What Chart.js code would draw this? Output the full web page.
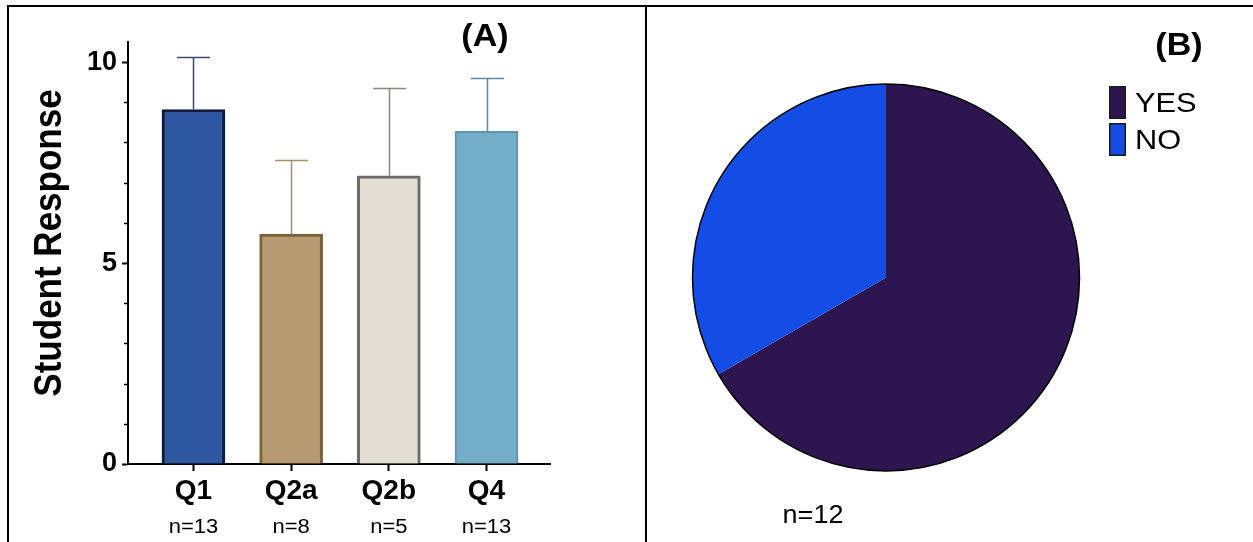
<!DOCTYPE html>
<html>
<head>
<meta charset="utf-8">
<title>Student Response</title>
<script src="https://cdn.jsdelivr.net/npm/chart.js@4.4.0/dist/chart.umd.min.js"></script>
<style>
  html, body { margin: 0; padding: 0; background: #ffffff; }
  #wrap { position: relative; width: 1253px; height: 542px; overflow: hidden; background: #fff; }
  #wrap canvas { position: absolute; top: 0; }
  .rule { position: absolute; background: #000; }
</style>
</head>
<body>
<div id="wrap">
  <canvas id="bars" width="645" height="542" style="left:0"></canvas>
  <canvas id="pie" width="606" height="542" style="left:647px"></canvas>
  <div class="rule" style="left:7px;top:5px;width:1246px;height:2px"></div>
  <div class="rule" style="left:7px;top:5px;width:2px;height:537px"></div>
  <div class="rule" style="left:645px;top:5px;width:2px;height:537px"></div>
</div>
<script>
// ---- panel (A): mean student response per question ----
const categories   = ['Q1', 'Q2a', 'Q2b', 'Q4'];
const sampleSizes  = ['n=13', 'n=8', 'n=5', 'n=13'];
const meanResponse = [8.82, 5.72, 7.17, 8.28];
const errorUpper   = [1.30, 1.85, 2.19, 1.33];
const yTickLabels  = [0, 5, 10];

// ---- panel (B): yes / no answers ----
const pieLabels = ['YES', 'NO'];
const pieCounts = [8, 4];
const pieSample = 'n=12';

// styling
const FONT = '"Liberation Sans", Arial, Helvetica, sans-serif';
const barFill   = ['#2e57a2', '#b59b6f', '#e2ded4', '#72aec8'];
const barEdge   = ['#0e1c3c', '#7a6137', '#6c6b67', '#5f95aa'];
const barEdgeW  = [3, 3, 3, 2];
const errColor  = ['#3c4b6b', '#a38f6b', '#8a8883', '#5c8a9b'];
const pieColors = ['#2d1650', '#134de6'];

// text drawn slightly widened, as in the figure's typesetting
function wideText(ctx, text, x, y, font, align, sx) {
  ctx.save();
  ctx.translate(x, y);
  ctx.scale(sx, 1);
  ctx.font = font;
  ctx.textAlign = align;
  ctx.textBaseline = 'alphabetic';
  ctx.fillText(text, 0, 0);
  ctx.restore();
}

// error bars (upper whisker only) drawn from each bar's top
const errorBars = {
  id: 'errorBars',
  afterDatasetsDraw(chart) {
    const { ctx, scales: { y } } = chart;
    const meta = chart.getDatasetMeta(0);
    ctx.save();
    meanResponse.forEach((m, i) => {
      const bar = meta.data[i];
      const cx = Math.round(bar.x) + 0.5;
      const top = y.getPixelForValue(m);
      const tip = Math.round(y.getPixelForValue(m + errorUpper[i])) + 0.5;
      ctx.strokeStyle = errColor[i];
      ctx.lineWidth = 1.5;
      ctx.beginPath();
      ctx.moveTo(cx, top);
      ctx.lineTo(cx, tip);
      ctx.moveTo(cx - 16.5, tip);
      ctx.lineTo(cx + 16.5, tip);
      ctx.stroke();
    });
    ctx.restore();
  }
};

// short minor ticks on the value axis at every unit
const minorTicks = {
  id: 'minorTicks',
  afterDraw(chart) {
    const { ctx, scales: { y }, chartArea } = chart;
    ctx.save();
    ctx.strokeStyle = '#000';
    ctx.lineWidth = 1.5;
    for (let v = 1; v < 10; v++) {
      if (v % 5 === 0) continue;
      const py = Math.round(y.getPixelForValue(v)) + 0.5;
      ctx.beginPath();
      ctx.moveTo(chartArea.left - 4, py);
      ctx.lineTo(chartArea.left, py);
      ctx.stroke();
    }
    ctx.restore();
  }
};

// panel letter, axis title and group sizes
const barTexts = {
  id: 'barTexts',
  afterDraw(chart) {
    const { ctx, scales: { x }, chartArea } = chart;
    ctx.save();
    ctx.fillStyle = '#000';
    wideText(ctx, '(A)', 485, 46, 'bold 31px ' + FONT, 'center', 1.1);

    sampleSizes.forEach((s, i) => {
      wideText(ctx, s, x.getPixelForValue(i), 533, '20px ' + FONT, 'center', 1.1);
    });

    ctx.translate(61, (chartArea.top + chartArea.bottom) / 2 - 10);
    ctx.scale(1.1, 1);
    ctx.rotate(-Math.PI / 2);
    ctx.font = 'bold 35px ' + FONT;
    ctx.textAlign = 'center';
    ctx.textBaseline = 'alphabetic';
    ctx.fillText('Student Response', 0, 0);
    ctx.restore();
  }
};

new Chart(document.getElementById('bars'), {
  type: 'bar',
  data: {
    datasets: [{
      data: meanResponse.map((v, i) => ({ x: i, y: v })),
      backgroundColor: barFill,
      borderColor: barEdge,
      borderWidth: barEdgeW,
      borderSkipped: 'start',
      barThickness: 63
    }]
  },
  options: {
    responsive: false,
    animation: false,
    devicePixelRatio: 1,
    layout: { padding: { top: 42, right: 95, left: 0, bottom: 0 } },
    plugins: { legend: { display: false }, tooltip: { enabled: false } },
    scales: {
      x: {
        type: 'linear',
        min: -0.67,
        max: 3.65,
        offset: false,
        afterBuildTicks: (s) => { s.ticks = categories.map((c, i) => ({ value: i })); },
        afterFit: (s) => { s.height = 78; },
        grid: { drawOnChartArea: false, offset: false, tickLength: 7, tickWidth: 2, tickColor: '#000' },
        border: { display: true, color: '#000', width: 2 },
        ticks: {
          autoSkip: false,
          maxRotation: 0,
          padding: 3,
          color: '#000',
          font: { family: FONT, size: 28, weight: 'bold' },
          callback: (v) => categories[v] ?? ''
        }
      },
      y: {
        min: 0,
        max: 10.5,
        afterFit: (s) => { s.width = 128; },
        grid: {
          drawOnChartArea: false,
          tickLength: 6,
          tickWidth: 2,
          tickColor: (c) => (c.tick && c.tick.value % 5 === 0) ? '#000' : 'rgba(0,0,0,0)'
        },
        border: { display: true, color: '#000', width: 2 },
        ticks: {
          stepSize: 1,
          includeBounds: false,
          autoSkip: false,
          padding: 5,
          color: '#000',
          font: { family: FONT, size: 27, weight: 'bold' },
          callback: (v) => yTickLabels.includes(v) ? String(v) : ''
        }
      }
    }
  },
  plugins: [errorBars, minorTicks, barTexts]
});

// thin outline around the whole pie
const pieOutline = {
  id: 'pieOutline',
  afterDatasetsDraw(chart) {
    const arc = chart.getDatasetMeta(0).data[0];
    const { ctx } = chart;
    ctx.save();
    ctx.strokeStyle = '#000';
    ctx.lineWidth = 1.5;
    ctx.beginPath();
    ctx.arc(arc.x, arc.y, arc.outerRadius, 0, Math.PI * 2);
    ctx.stroke();
    ctx.restore();
  }
};

// stacked tall-swatch legend, panel letter and sample size
const pieTexts = {
  id: 'pieTexts',
  afterDraw(chart) {
    const { ctx } = chart;
    const labels = chart.data.labels;
    const colors = chart.data.datasets[0].backgroundColor;
    ctx.save();
    ctx.fillStyle = '#000';
    wideText(ctx, '(B)', 532, 55, 'bold 31px ' + FONT, 'center', 1.1);
    wideText(ctx, pieSample, 166, 523, '25px ' + FONT, 'center', 1.08);

    labels.forEach((lab, i) => {
      const top = 86 + i * 37;
      ctx.fillStyle = colors[i];
      ctx.fillRect(462, top, 17, 33);
      ctx.strokeStyle = '#1a1a1a';
      ctx.lineWidth = 1.5;
      ctx.strokeRect(462.75, top + 0.75, 15.5, 31.5);
      ctx.fillStyle = '#000';
      wideText(ctx, lab, 488, top + 26, '28px ' + FONT, 'left', 1.1);
    });
    ctx.restore();
  }
};

new Chart(document.getElementById('pie'), {
  type: 'pie',
  data: {
    labels: pieLabels,
    datasets: [{ data: pieCounts, backgroundColor: pieColors, borderWidth: 0 }]
  },
  options: {
    responsive: false,
    animation: false,
    devicePixelRatio: 1,
    layout: { padding: { left: 45.5, right: 173.5, top: 84, bottom: 71 } },
    plugins: { legend: { display: false }, tooltip: { enabled: false } }
  },
  plugins: [pieOutline, pieTexts]
});
</script>
</body>
</html>
